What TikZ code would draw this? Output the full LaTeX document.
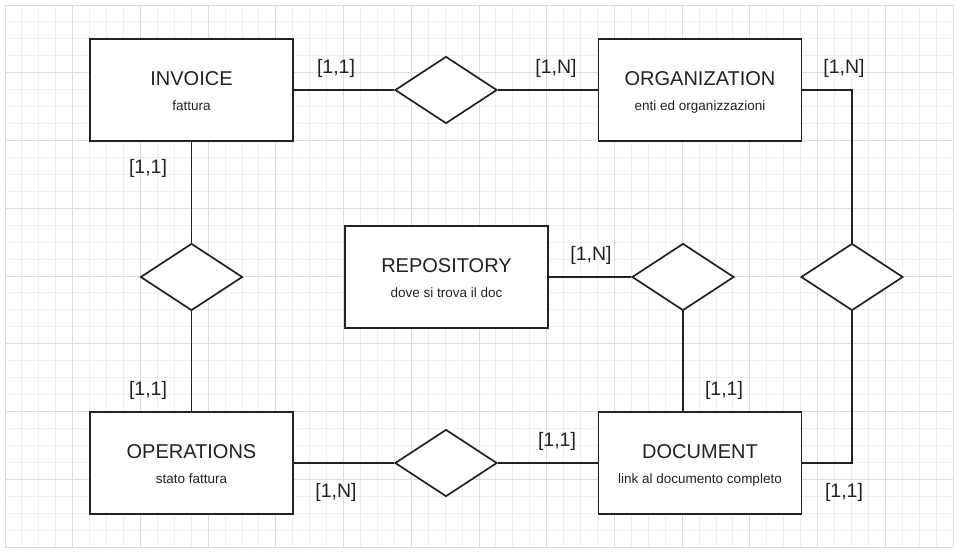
\documentclass[tikz,border=0pt]{standalone}
\usepackage{fontspec}
\setmainfont{Liberation Sans}
\usetikzlibrary{shapes.geometric}
\definecolor{gridminor}{HTML}{F0F0F0}
\definecolor{gridmajor}{HTML}{DDDDDD}
\definecolor{ink}{HTML}{222222}

\begin{document}
\begin{tikzpicture}[x=1pt,y=-1pt,
		entity/.style={draw=ink, line width=1.7pt, fill=white, minimum width=203pt, minimum height=102pt, inner sep=0pt},
		relation/.style={diamond, draw=ink, line width=1.7pt, fill=white, minimum width=102pt, minimum height=67pt, inner sep=0pt},
		link/.style={draw=ink, line width=1.7pt},
		etitle/.style={anchor=base, inner sep=0pt, text=ink, font=\fontsize{20}{24}\selectfont},
		esub/.style={anchor=base, inner sep=0pt, text=ink, font=\fontsize{13.5}{16}\selectfont},
		card/.style={anchor=base, inner sep=0pt, text=ink, font=\fontsize{19.5}{23}\selectfont}]
		\useasboundingbox (0,0) rectangle (958,552);
		\fill[white] (0,0) rectangle (958,552);
		%griglia di sfondo
		\foreach \i in {0,...,56} \draw[gridminor, line width=1pt] ({5+\i*16.929},5) -- ({5+\i*16.929},547);
		\foreach \j in {0,...,32} \draw[gridminor, line width=1pt] (5,{5+\j*16.938}) -- (953,{5+\j*16.938});
		\foreach \i in {0,...,14} \draw[gridmajor, line width=1pt] ({5+\i*67.714},5) -- ({5+\i*67.714},547);
		\foreach \j in {0,...,8} \draw[gridmajor, line width=1pt] (5,{5+\j*67.75}) -- (953,{5+\j*67.75});
		
		%entita
		\node[entity] (invoice) at (191.5,90) {};
		\node[etitle] (invoiceT) at ([yshift=5pt]invoice.center) {INVOICE};
		\node[esub] (invoiceS) at ([yshift=-20pt]invoice.center) {fattura};
		\node[entity] (org) at (700,90) {};
		\node[etitle] (orgT) at ([yshift=5pt]org.center) {ORGANIZATION};
		\node[esub] (orgS) at ([yshift=-20pt]org.center) {enti ed organizzazioni};
		\node[entity] (repo) at (446.5,277) {};
		\node[etitle] (repoT) at ([yshift=5pt]repo.center) {REPOSITORY};
		\node[esub] (repoS) at ([yshift=-20pt]repo.center) {dove si trova il doc};
		\node[entity] (oper) at (191.5,463) {};
		\node[etitle] (operT) at ([yshift=5pt]oper.center) {OPERATIONS};
		\node[esub] (operS) at ([yshift=-20pt]oper.center) {stato fattura};
		\node[entity] (doc) at (700,463) {};
		\node[etitle] (docT) at ([yshift=5pt]doc.center) {DOCUMENT};
		\node[esub] (docS) at ([yshift=-20pt]doc.center) {link al documento completo};
		
		%relazioni
		\node[relation] (relIO) at (446,90) {};
		\node[relation] (relIP) at (191.5,277) {};
		\node[relation] (relOD) at (852,277) {};
		\node[relation] (relRD) at (683,277) {};
		\node[relation] (relPD) at (446,463) {};
		
		\draw[link] (invoice) -- (relIO);
		\draw[link] (relIO) -- (org);
		\draw[link] (invoice) -- (relIP);
		\draw[link] (relIP) -- (oper);
		\draw[link] (oper) -- (relPD);
		\draw[link] (relPD) -- (doc);
		\draw[link] (org.east) -| (relOD.north);
		\draw[link] (relOD.south) |- (doc.east);
		\draw[link] (repo) -- (relRD);
		\draw[link] (relRD.south) -- (relRD.south |- doc.north);
		
		%cardinalita
		\node[card] (c1) at (336,73) {[1,1]};
		\node[card] (c2) at (556,73) {[1,N]};
		\node[card] (c3) at (844,73) {[1,N]};
		\node[card] (c4) at (148,173) {[1,1]};
		\node[card] (c5) at (591,260) {[1,N]};
		\node[card] (c6) at (148,395) {[1,1]};
		\node[card] (c7) at (724,395) {[1,1]};
		\node[card] (c8) at (557,446) {[1,1]};
		\node[card] (c9) at (336,497) {[1,N]};
		\node[card] (c10) at (844,497) {[1,1]};
	\end{tikzpicture}
\end{document}
